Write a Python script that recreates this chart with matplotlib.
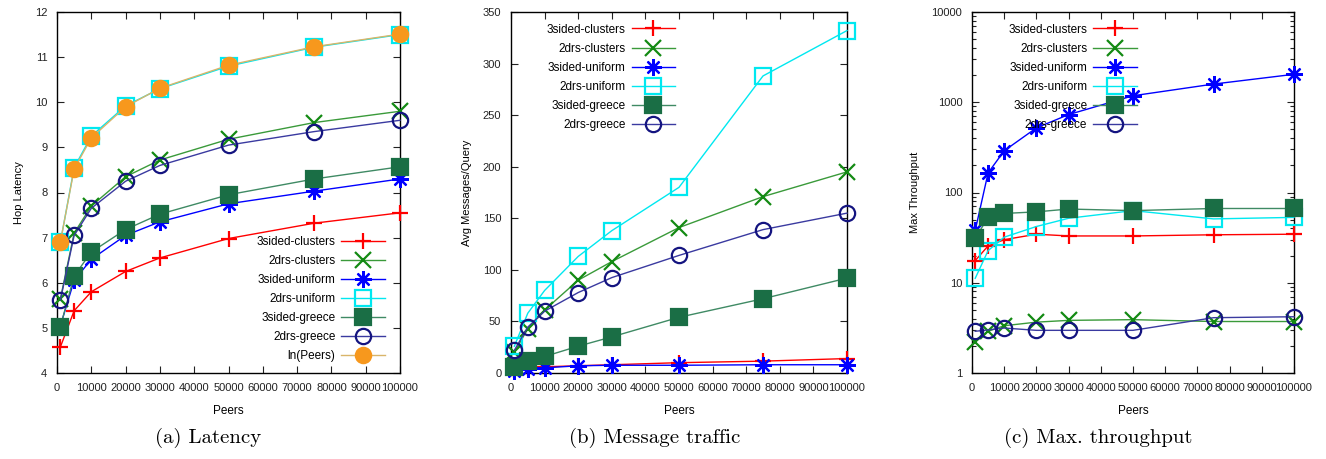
import matplotlib
matplotlib.use("Agg")
import matplotlib.pyplot as plt
from matplotlib.ticker import FixedLocator, LogLocator, NullFormatter, FuncFormatter

# --- data ---
peers = [1000, 5000, 10000, 20000, 30000, 50000, 75000, 100000]

latency = {
    "3sided-clusters": [4.58, 5.38, 5.80, 6.25, 6.55, 6.98, 7.32, 7.55],
    "2drs-clusters":   [5.65, 7.10, 7.70, 8.35, 8.72, 9.18, 9.55, 9.80],
    "3sided-uniform":  [5.05, 6.05, 6.52, 7.05, 7.35, 7.75, 8.03, 8.30],
    "2drs-uniform":    [6.90, 8.55, 9.25, 9.92, 10.30, 10.80, 11.22, 11.50],
    "3sided-greece":   [5.03, 6.15, 6.68, 7.18, 7.52, 7.95, 8.30, 8.57],
    "2drs-greece":     [5.62, 7.05, 7.65, 8.25, 8.60, 9.05, 9.35, 9.60],
    "ln(Peers)":       [6.91, 8.52, 9.21, 9.90, 10.31, 10.82, 11.23, 11.51],
}

messages = {
    "3sided-clusters": [3, 5, 6, 7, 8, 10, 11.5, 14],
    "2drs-clusters":   [20, 43, 61, 90, 108, 141, 171, 195],
    "3sided-uniform":  [2, 4, 5, 7, 7.5, 7.5, 8, 8],
    "2drs-uniform":    [26, 58, 80, 113, 138, 180, 288, 332],
    "3sided-greece":   [6, 12, 16, 26, 35, 54, 72, 92],
    "2drs-greece":     [22, 44.5, 60, 78, 92.5, 114, 139, 155],
}

throughput = {
    "3sided-clusters": [17.6, 25.6, 30, 34.5, 33, 33, 34, 34.5],
    "2drs-clusters":   [2.2, 2.9, 3.34, 3.66, 3.83, 3.9, 3.72, 3.72],
    "3sided-uniform":  [38, 165, 290, 520, 730, 1180, 1590, 2040],
    "2drs-uniform":    [11.2, 22.7, 32, 42, 51.8, 63, 51, 53],
    "3sided-greece":   [31, 53, 58.6, 61, 65.6, 63, 66.5, 66.5],
    "2drs-greece":     [2.9, 3.0, 3.15, 2.97, 2.97, 2.97, 4.1, 4.2],
}

captions = ["(a) Latency", "(b) Message traffic", "(c) Max. throughput"]
ylabels = ["Hop Latency", "Avg Messages/Query", "Max Throughput"]

# gnuplot-ish styles per series
styles = {
    "3sided-clusters": dict(color="#ff0000", marker="+", mfc="none"),
    "2drs-clusters":   dict(color="#138a13", marker="x", mfc="none"),
    "3sided-uniform":  dict(color="#0000ff", marker=(8, 2, 0), mfc="none"),
    "2drs-uniform":    dict(color="#00e8f0", marker="s", mfc="none"),
    "3sided-greece":   dict(color="#1a6e45", marker="s", mfc="#1a6e45"),
    "2drs-greece":     dict(color="#141480", marker="o", mfc="none"),
    "ln(Peers)":       dict(color="#f7981d", marker="o", mfc="#f7981d"),
}
line_colors = {"ln(Peers)": "#d9b56a", "2drs-greece": "#3a3aa0",
               "3sided-greece": "#3f8a64", "2drs-clusters": "#3a9a3a"}

W, H = 1326, 459
fig = plt.figure(figsize=(W / 100, H / 100), dpi=100)
plt.rcParams["font.family"] = "Liberation Sans"

# axes boxes in pixels: left, right, top, bottom
boxes = [(57, 400, 12, 373), (511, 847, 12, 373), (972, 1294, 12, 373)]
caption_x = [208, 655, 1098]


def make_ax(box):
    l, r, t, b = box
    return fig.add_axes([l / W, 1 - b / H, (r - l) / W, (b - t) / H])


def draw(ax, data):
    for name, vals in data.items():
        st = styles[name]
        ms = 11 if st["marker"] in ("s", "o") else 12
        ax.plot(peers, vals, color=line_colors.get(name, st["color"]), lw=1.0,
                marker=st["marker"], ms=ms, mec=st["color"], mfc=st["mfc"],
                mew=1.6, label=name, clip_on=False, zorder=3)


def style_axes(ax, ylabel):
    ax.set_xlim(0, 100000)
    ax.xaxis.set_major_locator(FixedLocator(range(0, 100001, 10000)))
    ax.xaxis.set_major_formatter(FuncFormatter(lambda v, p: f"{int(v)}"))
    ax.tick_params(which="both", direction="in", top=True, right=True,
                   labelsize=8, length=5, width=0.8, pad=7, colors="#222222")
    ax.tick_params(which="minor", length=3)
    for s in ax.spines.values():
        s.set_linewidth(1.0)
    ax.set_xlabel("Peers", fontsize=8.5, labelpad=9)
    ax.set_ylabel(ylabel, fontsize=8, labelpad=8)


def legend(ax, loc, anchor):
    ax.legend(loc=loc, bbox_to_anchor=anchor, frameon=False, markerfirst=False,
              fontsize=8.5, handlelength=3.7, labelspacing=0.6, borderpad=0,
              borderaxespad=0, handletextpad=0.5)


# (a) latency
ax = make_ax(boxes[0])
draw(ax, latency)
ax.set_ylim(4, 12)
ax.set_yticks(range(4, 13))
style_axes(ax, ylabels[0])
legend(ax, "lower right", (0.956, 0.03))

# (b) message traffic
ax = make_ax(boxes[1])
draw(ax, messages)
ax.set_ylim(0, 350)
ax.set_yticks(range(0, 351, 50))
style_axes(ax, ylabels[1])
legend(ax, "upper right", (0.489, 0.968))

# (c) max throughput
ax = make_ax(boxes[2])
draw(ax, throughput)
ax.set_yscale("log")
ax.set_ylim(1, 10000)
ax.yaxis.set_major_locator(FixedLocator([1, 10, 100, 1000, 10000]))
ax.yaxis.set_major_formatter(FuncFormatter(lambda v, p: f"{int(v)}"))
ax.yaxis.set_minor_locator(LogLocator(base=10, subs=range(2, 10)))
ax.yaxis.set_minor_formatter(NullFormatter())
style_axes(ax, ylabels[2])
legend(ax, "upper right", (0.512, 0.968))

for x, text in zip(caption_x, captions):
    fig.text(x / W, 1 - 438 / H, text, ha="center", va="center",
             fontsize=15, family="cmr10")

fig.savefig("out.png", dpi=100)
